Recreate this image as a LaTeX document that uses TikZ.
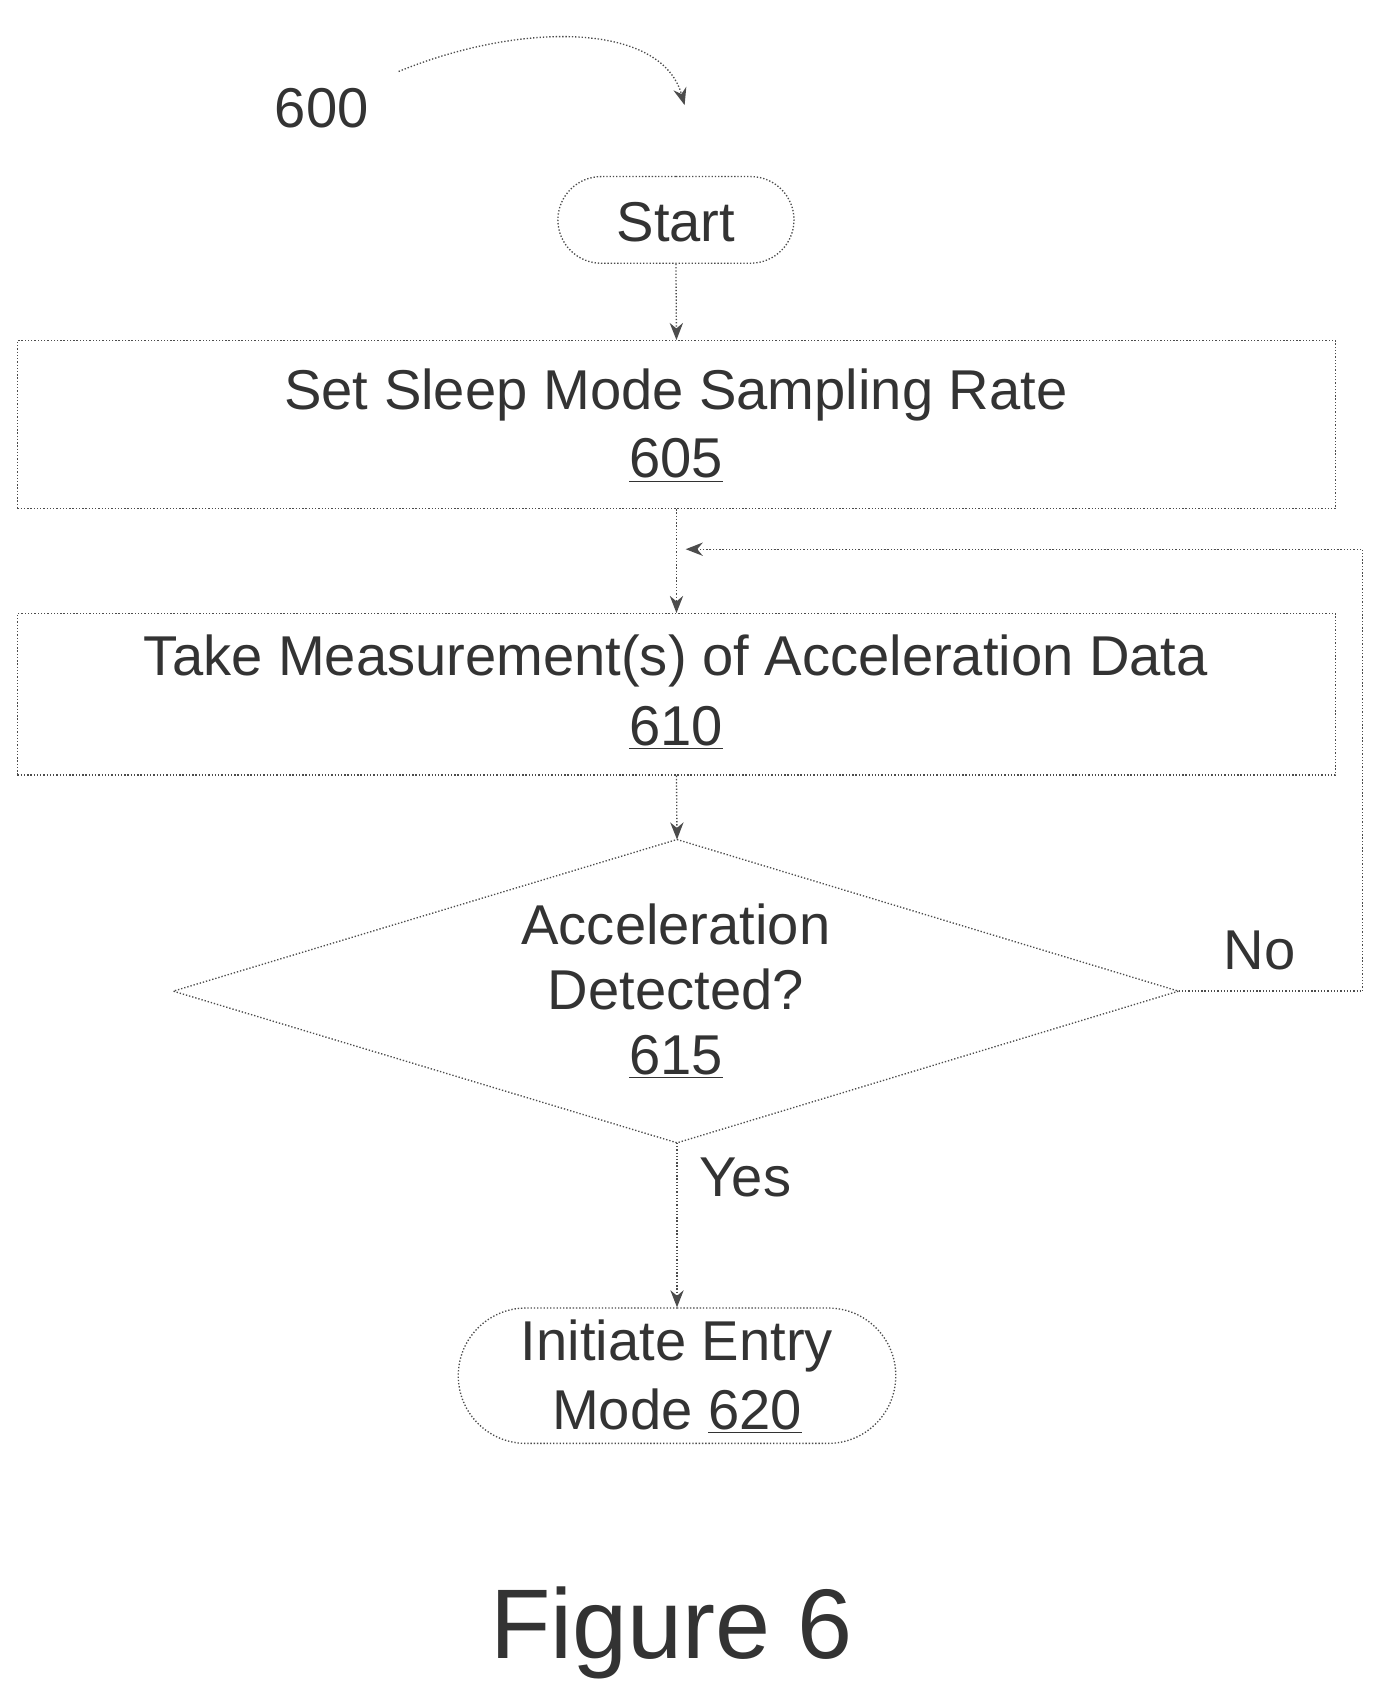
\documentclass[tikz,border=0pt]{standalone}
\usepackage{fontspec}
\setmainfont{Liberation Sans}
\usetikzlibrary{arrows.meta,shapes.geometric,shapes.misc}
\begin{document}
\begin{tikzpicture}[x=0.02cm,y=-0.02cm,
  ln/.style={draw=black!70,densely dotted,line width=0.7pt},
  arr/.style={ln,-{Stealth[length=9pt,width=7pt]}},
  txt/.style={font=\fontsize{29.5}{32}\selectfont,text=black!80,inner sep=0pt,align=center},
  box/.style={ln,rectangle,minimum width=24.34cm,minimum height=3.1cm,inner sep=0pt},
  term/.style={ln,rounded rectangle,inner sep=0pt}]
\useasboundingbox (0,0) rectangle (1274,1562);
\node[txt] (n600) at (297,100) {600};
\coordinate (c1) at (368,66);
\coordinate (c2) at (632,97);
\draw[arr] (c1) .. controls (480,20) and (610,20) .. (c2);
\node[term,minimum width=4.36cm,minimum height=1.6cm] (start) at (624,203) {};
\node[txt] at (624,205) {Start};
\node[box] (b605) at (624.5,392) {};
\node[txt] at (624,365) {Set Sleep Mode Sampling Rate};
\node[txt] at (624,425) {\underline{605}};
\node[box,minimum height=2.98cm] (b610) at (624.5,641) {};
\node[txt] at (624,610) {Take Measurement(s) of Acceleration Data};
\node[txt] at (624,672) {\underline{610}};
\coordinate (dt) at (625,775);
\coordinate (dl) at (160,915);
\coordinate (dr) at (1088,915);
\coordinate (db) at (625,1055);
\draw[ln] (dt) -- (dr) -- (db) -- (dl) -- cycle;
\node[txt] (d615) at (624,915) {Acceleration\\[2pt]Detected?\\[2pt]\underline{615}};
\node[txt] (no) at (1163,877) {No};
\node[txt] (yes) at (688,1087) {Yes};
\node[term,minimum width=8.08cm,minimum height=2.5cm] (b620) at (625,1270) {};
\node[txt] at (625,1271) {Initiate Entry\\[4pt]Mode \underline{620}};
\node[inner sep=0pt,font=\fontsize{52}{56}\selectfont,text=black!80] (fig) at (620,1507) {Figure 6};
\draw[arr] (start.south) -- (b605.north);
\draw[arr] (b605.south) -- (b610.north);
\draw[arr] (b610.south) -- (dt);
\draw[arr] (db) -- (b620.north);
\coordinate (fb) at (633,507);
\draw[arr] (dr) -- (1258,915) -- (1258,507) -- (fb);
\end{tikzpicture}
\end{document}
